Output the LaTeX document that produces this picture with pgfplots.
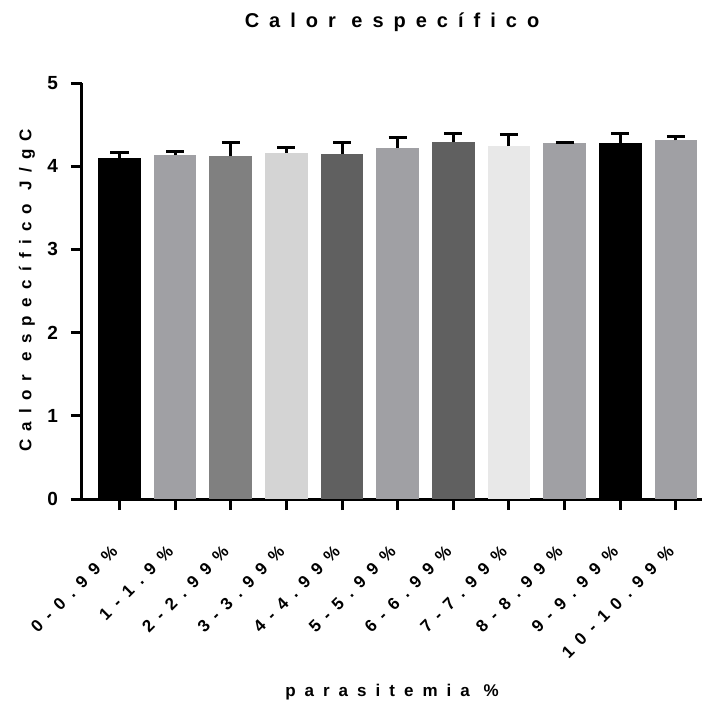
\documentclass[border=0pt]{standalone}
\usepackage{pgfplots}
\pgfplotsset{compat=1.18}
\usepackage{fontspec}
\setmainfont{Liberation Sans}[LetterSpace=50]
\definecolor{g1}{RGB}{0,0,0}
\definecolor{g2}{RGB}{160,160,164}
\definecolor{g3}{RGB}{128,128,128}
\definecolor{g4}{RGB}{212,212,212}
\definecolor{g5}{RGB}{96,96,96}
\definecolor{g8}{RGB}{232,232,232}
\pgfplotsset{eb/.style={draw=none,
    error bars/y dir=plus, error bars/y explicit,
    error bars/error bar style={line width=1.5pt, black},
    error bars/error mark options={rotate=90, mark size=4.5pt, line width=1.5pt, black}}}
\begin{document}
\begin{tikzpicture}
\path[use as bounding box] (-41pt,-102.5pt) rectangle (310pt,249.5pt);
\begin{axis}[
  at={(0pt,0pt)}, anchor=south west,
  scale only axis, width=310pt, height=208pt,
  xmin=-0.674, xmax=10.47, ymin=0, ymax=5,
  axis lines=left, axis line style={-, line width=1.5pt, black},
  ytick={0,1,2,3,4,5},
  xtick={0,...,10},
  xticklabels={0-0.99\%,1-1.9\%,2-2.99\%,3-3.99\%,4-4.99\%,5-5.99\%,6-6.99\%,7-7.99\%,8-8.99\%,9-9.99\%,10-10.99\%},
  tick align=outside, major tick length=5.5pt,
  tick style={line width=1.5pt, black},
  /pgf/number format/assume math mode=true,
  yticklabel style={xshift=-3pt, font=\fontsize{9.5}{11}\selectfont\bfseries},
  xticklabel style={yshift=-17pt, rotate=45, anchor=east, font=\fontsize{8.5}{10}\selectfont\bfseries},
  ybar, bar width=0.767, bar shift=0pt,
  every axis title shift=0pt,
  title={Calor específico},
  title style={at={(0.5,1.147)}, anchor=center, font=\fontsize{10}{12}\selectfont\bfseries},
  xlabel={parasitemia \%},
  xlabel style={at={(0.5,-0.464)}, anchor=center, font=\fontsize{8.5}{10}\selectfont\bfseries\addfontfeature{LetterSpace=53}},
  ylabel={Calor específico J/gC},
  ylabel style={at={(-0.0887,0.502)}, anchor=center, font=\fontsize{8.5}{10}\selectfont\bfseries\addfontfeature{LetterSpace=49}},
  clip=false,
]
\addplot[eb, fill=g1] coordinates {(0,4.10) +- (0,0.06)};
\addplot[eb, fill=g2] coordinates {(1,4.13) +- (0,0.05)};
\addplot[eb, fill=g3] coordinates {(2,4.12) +- (0,0.17)};
\addplot[eb, fill=g4] coordinates {(3,4.16) +- (0,0.06)};
\addplot[eb, fill=g5] coordinates {(4,4.15) +- (0,0.13)};
\addplot[eb, fill=g2] coordinates {(5,4.22) +- (0,0.12)};
\addplot[eb, fill=g5] coordinates {(6,4.29) +- (0,0.10)};
\addplot[eb, fill=g8] coordinates {(7,4.24) +- (0,0.14)};
\addplot[eb, fill=g2] coordinates {(8,4.28) +- (0,0.01)};
\addplot[eb, fill=g1] coordinates {(9,4.28) +- (0,0.11)};
\addplot[eb, fill=g2] coordinates {(10,4.31) +- (0,0.05)};
\end{axis}
\end{tikzpicture}
\end{document}
